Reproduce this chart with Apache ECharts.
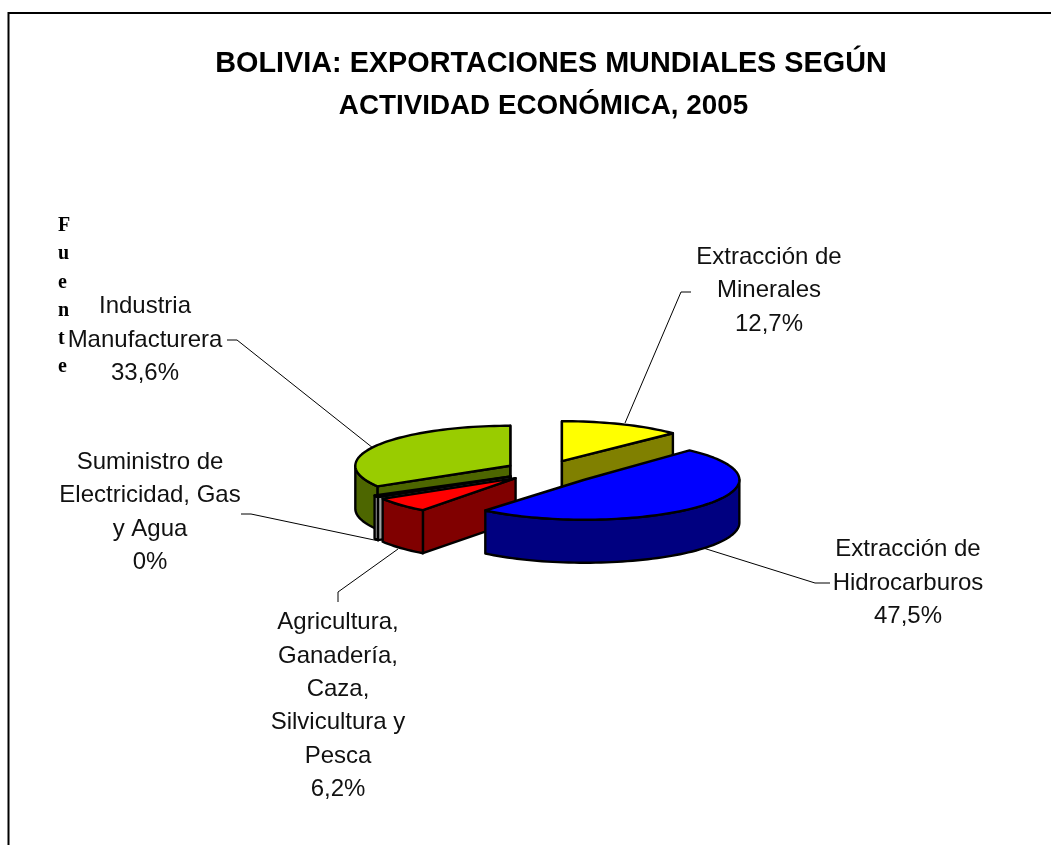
<!DOCTYPE html>
<html>
<head>
<meta charset="utf-8">
<style>html,body{margin:0;padding:0;background:#fff}#c{width:1051px;height:845px}</style>
<script src="https://cdn.jsdelivr.net/npm/echarts@6/dist/echarts.min.js"></script>
</head>
<body>
<div id="c"></div>
<script>
// ---- data ----
const categories = [
  'Extracción de\nMinerales',
  'Extracción de\nHidrocarburos',
  'Agricultura,\nGanadería,\nCaza,\nSilvicultura y\nPesca',
  'Suministro de\nElectricidad, Gas\ny Agua',
  'Industria\nManufacturera'
];
const shares = [12.7, 47.5, 6.2, 0, 33.6];
const titleLines = ['BOLIVIA: EXPORTACIONES MUNDIALES SEGÚN', 'ACTIVIDAD ECONÓMICA, 2005'];
const sideText = 'Fuente';

// ---- style ----
const topColors  = ['#ffff00', '#0000ff', '#ff0000', '#c0c0c0', '#99cc00'];
const sideColors = ['#808000', '#000080', '#800000', '#a0a0a0', '#4d6600'];

// ---- layout ----
const pieLayout = { cx: 546, cy: 471, rx: 155, ry: 40, depth: 43, squash: 0.26 };
const explode   = [41, 51, 41, 41, 41];
const anglePad  = [0, 3, 0, 0, 0];          // projection widening of the half-pie
const minSweep  = 2.5;                      // a 0 % slice stays visible as a sliver
const labelCentres = [[769, 290.5], [908, 583], [338, 706], [150, 512.5], [145, 340]];
const leaders = [
  [[691, 292], [681, 292], [625, 423]],
  [[830, 583], [815, 583], [700, 547]],
  [[338, 602], [338, 592], [398, 549]],
  [[241, 514], [251, 514], [379, 541]],
  [[227, 340], [237, 340], [373, 448]]
];

function sliceGeometry() {
  let a = 0;
  return shares.map((v, i) => {
    const sweep = v / 100 * 360;
    const g = { start: a - anglePad[i], end: a + Math.max(sweep, minSweep) + anglePad[i], mid: a + sweep / 2 };
    a += sweep;
    const m = g.mid * Math.PI / 180;
    g.ox = pieLayout.cx + explode[i] * Math.sin(m);
    g.oy = pieLayout.cy - explode[i] * Math.cos(m) * pieLayout.squash;
    return g;
  });
}
const geo = sliceGeometry();

function rim(g, deg, dz) {
  const t = deg * Math.PI / 180;
  return [g.ox + pieLayout.rx * Math.sin(t), g.oy - pieLayout.ry * Math.cos(t) + (dz || 0)];
}
function arc(g, from, to, dz) {
  const pts = [], n = Math.max(2, Math.ceil(Math.abs(to - from) / 2));
  for (let k = 0; k <= n; k++) pts.push(rim(g, from + (to - from) * k / n, dz));
  return pts;
}

const ORDER = geo.map((g, i) => [g.oy, i]).sort((p, q) => p[0] - q[0]).map(p => p[1]);

function renderSlice(params, api) {
  const i = api.value(0);
  const g = geo[i];
  const rank = ORDER.indexOf(i) * 10;
  const D = pieLayout.depth;
  const stroke = { stroke: '#000', lineWidth: 2.4, lineJoin: 'round' };
  const children = [];
  const poly = (pts, fill, z) => children.push({
    type: 'polygon', shape: { points: pts }, z2: rank + z, style: Object.assign({ fill }, stroke)
  });
  // radial cut walls, only if they face the viewer
  [[g.start, g.start - 90], [g.end, g.end + 90]].forEach(([deg, normal]) => {
    if (-Math.cos(normal * Math.PI / 180) > -0.001) {
      const p = rim(g, deg), q = rim(g, deg, D);
      poly([[g.ox, g.oy], p, q, [g.ox, g.oy + D]], sideColors[i], 1);
    }
  });
  // outer band: the part of the rim in the front half
  const from = Math.max(g.start, 90), to = Math.min(g.end, 270);
  if (to > from) {
    poly(arc(g, from, to, 0).concat(arc(g, to, from, D)), sideColors[i], 2);
  }
  // top face
  poly([[g.ox, g.oy]].concat(arc(g, g.start, g.end, 0)), topColors[i], 3);
  return { type: 'group', children };
}

function pct(v) { return String(v).replace('.', ',') + '%'; }

function renderLabel(params, api) {
  const i = api.value(0);
  const c = labelCentres[i];
  return {
    type: 'group',
    children: [
      { type: 'polyline', shape: { points: leaders[i] }, z2: 0,
        style: { stroke: '#000', lineWidth: 1, fill: null } },
      { type: 'text', z2: 200, style: {
          x: c[0], y: c[1], text: categories[i] + '\n' + pct(shares[i]),
          align: 'center', verticalAlign: 'middle', lineHeight: 33.4,
          fill: '#111', font: '24px "Liberation Sans", Arial, sans-serif' } }
    ]
  };
}

const titleFont = '"Liberation Sans", Arial, sans-serif';
const indexData = shares.map((v, i) => [i, v]);
const chart = echarts.init(document.getElementById('c'), null, { renderer: 'canvas', width: 1051, height: 845 });
chart.setOption({
  animation: false,
  backgroundColor: '#fff',
  title: [
    { text: titleLines[0], left: 546, top: 38, textAlign: 'center',
      textStyle: { fontFamily: titleFont, fontWeight: 'bold', fontSize: 28.8, lineHeight: 42, color: '#000' } },
    { text: titleLines[1], left: 538.5, top: 80, textAlign: 'center',
      textStyle: { fontFamily: titleFont, fontWeight: 'bold', fontSize: 27.8, lineHeight: 42, color: '#000' } }
  ],
  graphic: [
    { type: 'polyline', z: 1, shape: { points: [[8.5, 845], [8.5, 13], [1051, 13]] }, style: { stroke: '#000', lineWidth: 2, fill: null } },
    { type: 'text', z: 1, left: 58, top: 212, style: {
        text: sideText.split('').join('\n'), lineHeight: 28.2, fill: '#000',
        font: 'bold 20px "Liberation Serif", "Times New Roman", serif' } }
  ],
  series: [
    { type: 'custom', coordinateSystem: 'none', renderItem: renderLabel, data: indexData, silent: true, z: 2 },
    { type: 'custom', coordinateSystem: 'none', renderItem: renderSlice, data: indexData, silent: true, z: 3 }
  ]
});
</script>
</body>
</html>
